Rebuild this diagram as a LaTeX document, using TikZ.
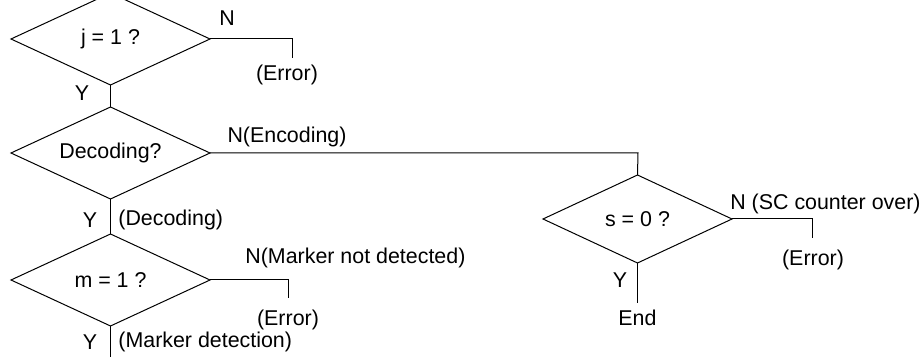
\documentclass[tikz,border=0pt]{standalone}
\usepackage{fontspec}
\setmainfont{Liberation Sans}
\usetikzlibrary{shapes.geometric}
\begin{document}
\begin{tikzpicture}[x=0.5pt,y=-0.5pt,
  dec/.style={draw, shape=diamond, aspect=2.2, inner sep=0pt, outer sep=0pt, minimum width=99.5pt, minimum height=46pt, line width=0.5pt, font=\fontsize{10.7}{12}\selectfont},
  lbl/.style={inner sep=0pt, font=\fontsize{10.7}{12}\selectfont},
  conn/.style={line width=0.5pt}]
\useasboundingbox (0,0) rectangle (922,357);
\node[dec] (d1) at (110.5,39) {j = 1 ?};
\node[dec] (d2) at (110.5,153) {Decoding?};
\node[dec] (d3) at (110.5,280) {m = 1 ?};
\node[dec, minimum width=94.5pt, minimum height=44pt] (d4) at (637.5,219) {s = 0 ?};
% free ends and corners
\coordinate (c1) at (292,39);
\coordinate (e1) at (292,58);
\coordinate (c2) at (638,153);
\coordinate (c3) at (288,280);
\coordinate (e3) at (288,298);
\coordinate (e3b) at (110.5,357);
\coordinate (c4) at (812,219);
\coordinate (e4) at (812,238);
\coordinate (e5) at (637.5,303);
% connectors
\draw[conn] (d1.east) -- (c1) -- (e1);
\draw[conn] (d1.south) -- (d2.north);
\draw[conn] (d2.east) -- (c2) -- (d4.north);
\draw[conn] (d2.south) -- (d3.north);
\draw[conn] (d3.east) -- (c3) -- (e3);
\draw[conn] (d3.south) -- (e3b);
\draw[conn] (d4.east) -- (c4) -- (e4);
\draw[conn] (d4.south) -- (e5);
% labels
\node[lbl] (n1) at (227,18) {N};
\node[lbl] (err1) at (287,75) {(Error)};
\node[lbl] (y1) at (82,93) {Y};
\node[lbl] (n2) at (287,137) {N(Encoding)};
\node[lbl] (y2) at (90,220) {Y};
\node[lbl, anchor=west] (dl) at (118,220) {(Decoding)};
\node[lbl, anchor=west] (n3) at (245,258) {N(Marker not detected)};
\node[lbl] (err3) at (288,320) {(Error)};
\node[lbl] (y3) at (90,342) {Y};
\node[lbl, anchor=west] (md) at (118,342) {(Marker detection)};
\node[lbl, anchor=east] (n4) at (921,204) {N (SC counter over)};
\node[lbl] (err4) at (813,260) {(Error)};
\node[lbl] (y4) at (620,280) {Y};
\node[lbl] (end) at (637.5,318) {End};
\end{tikzpicture}
\end{document}
